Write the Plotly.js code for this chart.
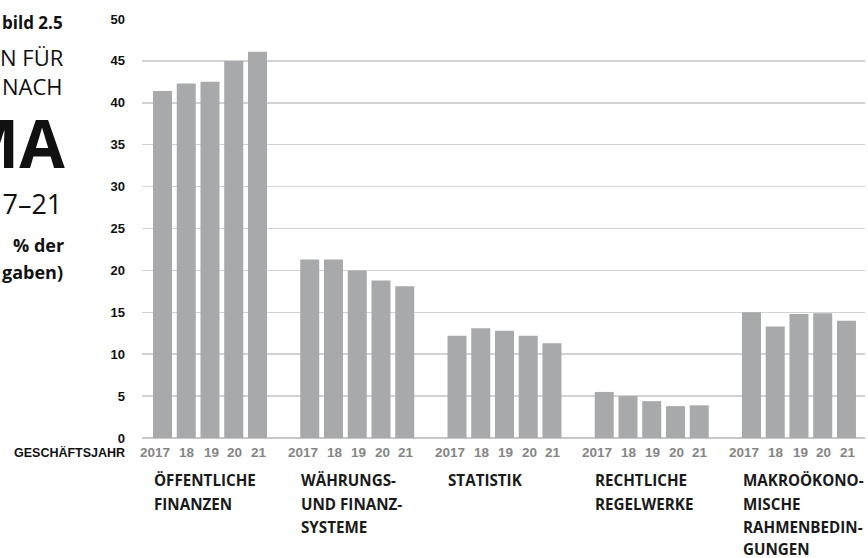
<!DOCTYPE html>
<html>
<head>
<meta charset="utf-8">
<script src="https://cdn.plot.ly/plotly-3.0.1.min.js"></script>
<style>html,body{margin:0;padding:0;background:#fff;}#chart{width:868px;height:558px;}</style>
</head>
<body>
<div id="chart"></div>
<script>
// ---- data ----
const years = ['2017', '18', '19', '20', '21'];
const groupLabels = [
  ['ÖFFENTLICHE', 'FINANZEN'],
  ['WÄHRUNGS-', 'UND FINANZ-', 'SYSTEME'],
  ['STATISTIK'],
  ['RECHTLICHE', 'REGELWERKE'],
  ['MAKROÖKONO-', 'MISCHE', 'RAHMENBEDIN-', 'GUNGEN']
];
const oeffentlicheFinanzen = [41.4, 42.3, 42.5, 45.0, 46.1];
const waehrungsFinanzsysteme = [21.3, 21.3, 20.0, 18.8, 18.1];
const statistik = [12.2, 13.1, 12.8, 12.2, 11.3];
const rechtlicheRegelwerke = [5.5, 5.0, 4.4, 3.8, 3.9];
const makrooekonomisch = [15.0, 13.3, 14.8, 14.9, 14.0];
const yTicks = [0, 5, 10, 15, 20, 25, 30, 35, 40, 45, 50];
const axisTitle = 'GESCHÄFTSJAHR';
const sideText = ['bild 2.5', 'N FÜR', 'NACH', 'MA', '17–21', '% der', 'gaben)'];

// ---- layout constants ----
const W = 868, H = 558;
const M = {l: 142, r: 3, t: 19, b: 120};
const PW = W - M.l - M.r, PH = H - M.t - M.b;
const GROUP_STEP = 6.2;
const BAR_W = 0.8;
const FONT = '"Open Sans", "Noto Sans", sans-serif';
const FONT_B = '"Liberation Sans", Arial, sans-serif';
const px = p => (p - M.l) / PW;          // pixel -> paper x
const py = p => (H - M.b - p) / PH;      // pixel -> paper y

const seriesList = [oeffentlicheFinanzen, waehrungsFinanzsysteme, statistik, rechtlicheRegelwerke, makrooekonomisch];
const xs = [], ys = [];
seriesList.forEach((s, g) => s.forEach((v, i) => { xs.push(g * GROUP_STEP + i); ys.push(v); }));

const annotations = [];
// year labels
seriesList.forEach((s, g) => years.forEach((yr, i) => {
  const x = g * GROUP_STEP + i;
  annotations.push({
    xref: 'x', yref: 'paper', x: i === 0 ? x + BAR_W / 2 + 0.02 : x + 0.05, y: py(452),
    xanchor: i === 0 ? 'right' : 'center', yanchor: 'middle', showarrow: false,
    text: yr, font: {family: FONT_B, size: 13.5, color: '#858585', weight: 700}
  });
}));
// group labels
const lineY = [480, 503.5, 527, 549];
groupLabels.forEach((lines, g) => lines.forEach((t, k) => {
  annotations.push({
    xref: 'x', yref: 'paper', x: g * GROUP_STEP - BAR_W / 2 - 0.06, y: py(lineY[k]),
    xanchor: 'left', yanchor: 'middle', showarrow: false,
    text: t, font: {family: FONT, size: 15.2, color: '#1a1a1a', weight: 700}
  });
}));
// axis title
annotations.push({
  xref: 'paper', yref: 'paper', x: px(127), y: py(452), xanchor: 'right', yanchor: 'middle',
  showarrow: false, text: axisTitle, font: {family: FONT_B, size: 12.5, color: '#111', weight: 700}
});
// side text (cropped title block)
const sideSpec = [
  {y: 23, size: 17, w: 700, r: 65},
  {y: 57, size: 22, w: 400, r: 66},
  {y: 86, size: 22, w: 400, r: 65},
  {y: 142, size: 66, w: 700, r: 67},
  {y: 203, size: 27, w: 400, r: 64},
  {y: 245, size: 18, w: 700, r: 66},
  {y: 272, size: 18, w: 700, r: 65}
];
sideText.forEach((t, k) => {
  const s = sideSpec[k];
  annotations.push({
    xref: 'paper', yref: 'paper', x: px(s.r), y: py(s.y), xanchor: 'right', yanchor: 'middle',
    showarrow: false, text: t, font: {family: FONT, size: s.size, color: '#111', weight: s.w}
  });
});

const trace = {
  type: 'bar', x: xs, y: ys, width: BAR_W,
  marker: {color: '#a8a9ab', line: {width: 0}},
  hoverinfo: 'y', cliponaxis: false
};

const layout = {
  width: W, height: H, margin: M,
  paper_bgcolor: '#fff', plot_bgcolor: '#fff',
  showlegend: false,
  xaxis: {range: [-0.863, 29.58], showticklabels: false, showgrid: false, zeroline: false, fixedrange: true},
  yaxis: {
    range: [0, 50], tickvals: yTicks, ticktext: yTicks.map(String),
    showgrid: true, gridcolor: '#d2d2d2', gridwidth: 1.5,
    zeroline: true, zerolinecolor: '#c8c8c8', zerolinewidth: 1.5,
    ticklabelstandoff: 16,
    tickfont: {family: FONT_B, size: 13, color: '#111', weight: 700}, fixedrange: true
  },
  annotations: annotations,
  font: {family: FONT}
};

Plotly.newPlot('chart', [trace], layout, {displayModeBar: false, staticPlot: true});
</script>
</body>
</html>
